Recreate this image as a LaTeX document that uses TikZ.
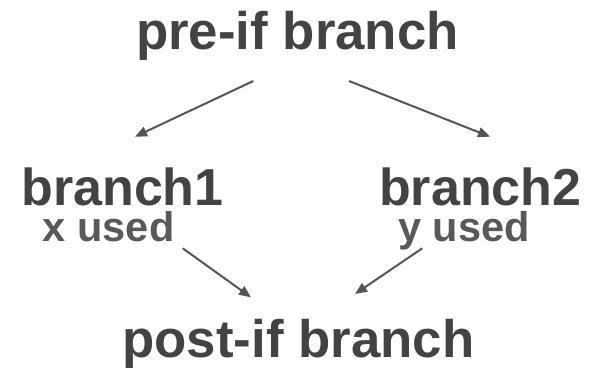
\documentclass[tikz,border=0pt]{standalone}
\usepackage{fontspec}
\setmainfont{Liberation Sans}
\usetikzlibrary{arrows.meta}
\definecolor{maintext}{HTML}{434343}
\definecolor{subtext}{HTML}{595959}
\definecolor{arrowc}{HTML}{555555}
\tikzset{
  big/.style={anchor=base, inner sep=0pt, text=maintext, font=\bfseries\fontsize{52.8}{60}\selectfont},
  mid/.style={anchor=base, inner sep=0pt, text=maintext, font=\bfseries\fontsize{52}{60}\selectfont},
  small/.style={anchor=base, inner sep=0pt, text=subtext, font=\bfseries\fontsize{41.5}{46}\selectfont},
  conn/.style={draw=arrowc, line width=2pt, -{Triangle[length=12pt,width=10pt]}}
}
\begin{document}
\begin{tikzpicture}[x=1pt,y=-1pt]
\useasboundingbox (0,0) rectangle (595,379);
\node[big] (pre) at (297.5,50) {pre-if branch};
\node[mid] (b1) at (122.5,205.7) {branch1};
\node[small] (xu) at (108.7,241.5) {x used};
\node[mid] (b2) at (480.3,205.7) {branch2};
\node[small] (yu) at (464,242) {y used};
\node[big] (post) at (298.3,358) {post-if branch};
\coordinate (a1s) at (253.3,81);
\coordinate (a1e) at (135,136.7);
\coordinate (a2s) at (349,81);
\coordinate (a2e) at (490,136.7);
\coordinate (a3s) at (182.7,248.3);
\coordinate (a3e) at (251,297.3);
\coordinate (a4s) at (422.3,248.3);
\coordinate (a4e) at (355,294);
\draw[conn] (a1s) -- (a1e);
\draw[conn] (a2s) -- (a2e);
\draw[conn] (a3s) -- (a3e);
\draw[conn] (a4s) -- (a4e);
\end{tikzpicture}
\end{document}
